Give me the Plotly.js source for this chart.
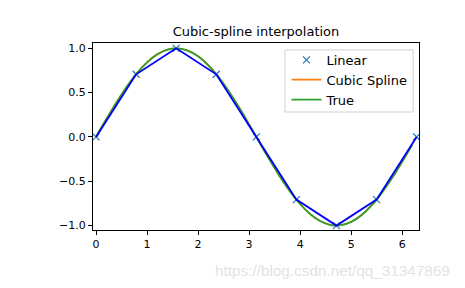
<!DOCTYPE html>
<html>
<head>
<meta charset="utf-8">
<script src="https://cdn.plot.ly/plotly-3.0.1.min.js"></script>
<style>html,body{margin:0;padding:0;background:#fff;}#chart{width:465px;height:288px;}</style>
</head>
<body>
<div id="chart"></div>
<script>
// Sample points (Linear)
const xPts = [0, 0.7854, 1.5708, 2.3562, 3.1416, 3.9270, 4.7124, 5.4978, 6.2832];
const yPts = [0, 0.7071, 1.0, 0.7071, 0, -0.7071, -1.0, -0.7071, 0];
// Dense curve x positions
const xCurve = [0,0.2,0.4,0.6,0.8,1.0,1.2,1.4,1.6,1.8,2.0,2.2,2.4,2.6,2.8,3.0,3.2,3.4,3.6,3.8,4.0,4.2,4.4,4.6,4.8,5.0,5.2,5.4,5.6,5.8,6.0,6.2];
// Cubic spline values
const ySpline = [0,0.1990,0.3898,0.5650,0.7176,0.8414,0.9317,0.9850,0.9993,0.9737,0.9094,0.8088,0.6758,0.5157,0.3350,0.1410,-0.0584,-0.2556,-0.4426,-0.6120,-0.7568,-0.8714,-0.9513,-0.9934,-0.9960,-0.9590,-0.8838,-0.7731,-0.6315,-0.4646,-0.2792,-0.0830];
// True values
const yTrue = [0,0.1987,0.3894,0.5646,0.7174,0.8415,0.9320,0.9854,0.9996,0.9738,0.9093,0.8085,0.6755,0.5155,0.3350,0.1411,-0.0584,-0.2555,-0.4425,-0.6119,-0.7568,-0.8716,-0.9516,-0.9937,-0.9962,-0.9589,-0.8835,-0.7728,-0.6313,-0.4646,-0.2794,-0.0831];
const xTicks = [0,1,2,3,4,5,6];
const yTicks = [-1.0,-0.5,0.0,0.5,1.0];

const traces = [
  {x: xPts, y: yPts, mode: 'markers', name: 'Linear',
   marker: {symbol: 'x-thin', size: 7, color: '#1f77b4', line: {color: '#1f77b4', width: 1.2}}},
  {x: xCurve, y: ySpline, mode: 'lines', name: 'Cubic Spline', line: {color: '#ff7f0e', width: 1.8, shape: 'spline'}},
  {x: xCurve, y: yTrue, mode: 'lines', name: 'True', line: {color: '#2ca02c', width: 1.8, shape: 'spline'}},
  {x: xPts, y: yPts, mode: 'lines', name: 'b', showlegend: false, line: {color: '#0000ff', width: 1.8}}
];

const axisCommon = {
  showline: true, linecolor: '#000', linewidth: 1, mirror: true,
  ticks: 'outside', ticklen: 4, tickwidth: 1, tickcolor: '#000',
  showgrid: false, zeroline: false,
  tickfont: {family: 'DejaVu Sans', size: 11, color: '#000'}
};

const layout = {
  width: 465, height: 288,
  margin: {l: 93, r: 46, t: 43, b: 58},
  paper_bgcolor: '#fff', plot_bgcolor: '#fff',
  title: {text: 'Cubic-spline interpolation', font: {family: 'DejaVu Sans', size: 13, color: '#000'},
          x: 0.5, xref: 'paper', xanchor: 'center', y: 0.89, yref: 'container', yanchor: 'middle'},
  xaxis: Object.assign({}, axisCommon, {range: [-0.06, 6.33], tickvals: xTicks, ticktext: xTicks.map(String)}),
  yaxis: Object.assign({}, axisCommon, {range: [-1.05, 1.06], tickvals: yTicks, ticktext: yTicks.map(v => (v < 0 ? '\u2212' : '') + Math.abs(v).toFixed(1))}),
  showlegend: true,
  legend: {x: 0.98, xanchor: 'right', y: 0.99, yanchor: 'top', bgcolor: 'rgba(0,0,0,0)',
           borderwidth: 0, font: {family: 'DejaVu Sans', size: 13, color: '#000'},
           tracegroupgap: 0, itemwidth: 30},
  shapes: [{type: 'rect', xref: 'paper', yref: 'paper', x0: 0.589, x1: 0.982, y0: 0.631, y1: 0.963,
            line: {color: '#d0d0d0', width: 1}, fillcolor: 'rgba(255,255,255,0.8)', layer: 'above'}],
  annotations: [{text: 'https://blog.csdn.net/qq_31347869', xref: 'paper', yref: 'paper', x: 1.101, y: -0.215,
                 xanchor: 'right', yanchor: 'middle', showarrow: false,
                 font: {family: 'Liberation Sans', size: 15.3, color: '#e3e3e3'}}]
};

Plotly.newPlot('chart', traces, layout, {displayModeBar: false, staticPlot: true});
</script>
</body>
</html>
